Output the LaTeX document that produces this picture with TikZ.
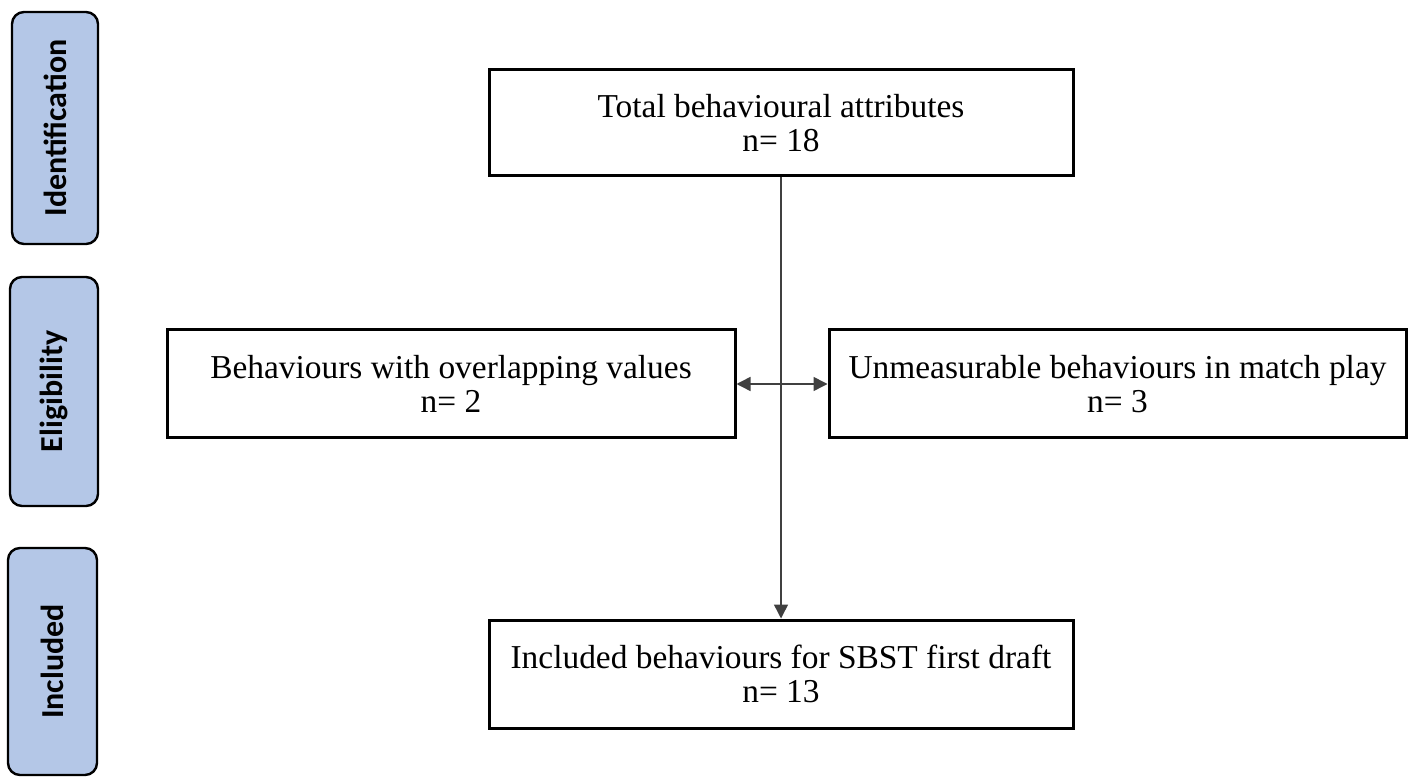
\documentclass[tikz,border=0pt]{standalone}
\usepackage{fontspec}
\setmainfont{Liberation Serif}
\newfontfamily\phasefont{Carlito}
\usepackage{tikz}
\usetikzlibrary{arrows.meta,positioning}

\begin{document}
\begin{tikzpicture}[x=0.5pt,y=-0.5pt,
		stagebox/.style={draw=black,line width=1.5pt,fill=white,align=center,
			font=\fontsize{16.7}{17}\selectfont,inner sep=0pt},
		phasebox/.style={draw=black,line width=1.2pt,fill=phaseblue,rounded corners=6pt,
			rotate=90,inner sep=0pt,font=\phasefont\bfseries\fontsize{16}{18}\selectfont},
		link/.style={line width=0.75pt,draw=black!75,-{Triangle[length=7pt,width=7pt]}}]
		\definecolor{phaseblue}{HTML}{B4C7E7}
		\useasboundingbox (0,0) rectangle (1411,779);
		% phases on the left
		\node[phasebox,minimum width=116pt,minimum height=43pt] (ident) at (55,128) {Identification};
		\node[phasebox,minimum width=114.5pt,minimum height=44pt] (elig) at (54,391.5) {Eligibility};
		\node[phasebox,minimum width=113.5pt,minimum height=44.5pt] (incl) at (52.5,661.5) {Included};
		% flow boxes
		\node[stagebox,minimum width=292pt,minimum height=53pt] (total) at (781,123) {Total behavioural attributes\\n= 18};
		\node[stagebox,minimum width=284pt,minimum height=54pt] (overlap) at (451,384) {Behaviours with overlapping values\\n= 2};
		\node[stagebox,minimum width=288.5pt,minimum height=54pt] (unmeas) at (1117.5,384) {Unmeasurable behaviours in match play\\n= 3};
		\node[stagebox,minimum width=292pt,minimum height=54pt] (final) at (781,674) {Included behaviours for SBST first draft\\n= 13};
		\draw[link] (total) -- (final);
		\draw[link,{Triangle[length=7pt,width=7pt]}-{Triangle[length=7pt,width=7pt]}] (overlap) -- (unmeas);
\end{tikzpicture}
\end{document}
